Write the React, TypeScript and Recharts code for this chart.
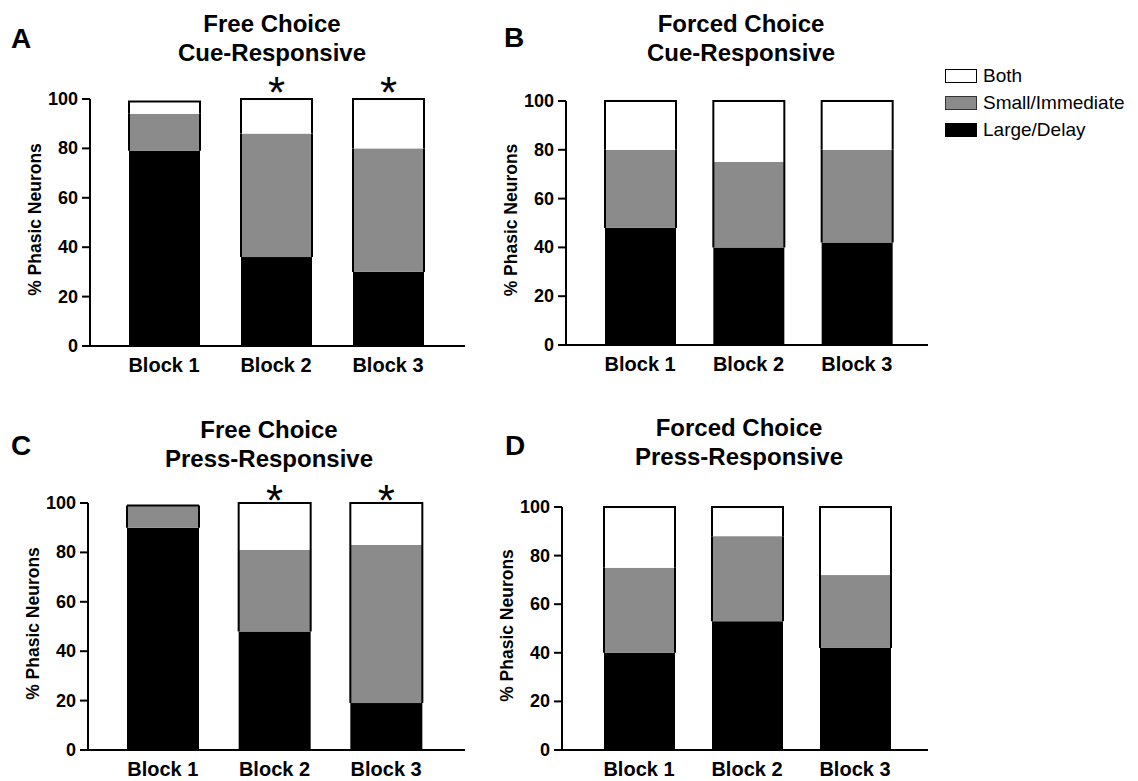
import React from "react"
import { BarChart, Bar, XAxis, YAxis, Legend, LabelList } from "recharts"

const FONT = "'Liberation Sans', Arial, Helvetica, sans-serif"
const W = 1138
const H = 781

const blocks = ["Block 1", "Block 2", "Block 3"]
const yTicks = [0, 20, 40, 60, 80, 100]
const legendOrder = ["Both", "Small/Immediate", "Large/Delay"]

// % of phasic neurons per block
const aLarge = [79, 36, 30]
const aSmall = [15, 50, 50]
const aBoth = [5, 14, 20]
const aSig = ["", "*", "*"]

const bLarge = [48, 40, 42]
const bSmall = [32, 35, 38]
const bBoth = [20, 25, 20]
const bSig = ["", "", ""]

const cLarge = [90, 48, 19]
const cSmall = [9, 33, 64]
const cBoth = [0, 19, 17]
const cSig = ["", "*", "*"]

const dLarge = [40, 53, 42]
const dSmall = [35, 35, 30]
const dBoth = [25, 12, 28]
const dSig = ["", "", ""]

const GRAY = "#8b8b8b"

type Cfg = {
  large: number[]
  small: number[]
  both: number[]
  sig: string[]
  axisX: number
  axisRight: number
  y100: number
  y0: number
  padL: number
  padR: number
  barSize: number
  starGap: number
  legend?: boolean
}

const panels: Cfg[] = [
  { large: aLarge, small: aSmall, both: aBoth, sig: aSig, axisX: 90, axisRight: 465, y100: 99, y0: 346, padL: 18, padR: 21, barSize: 71, starGap: 15 },
  { large: bLarge, small: bSmall, both: bBoth, sig: bSig, axisX: 566, axisRight: 928, y100: 101, y0: 345, padL: 20, padR: 17, barSize: 71, starGap: 15, legend: true },
  { large: cLarge, small: cSmall, both: cBoth, sig: cSig, axisX: 88, axisRight: 465, y100: 503, y0: 750, padL: 19, padR: 23, barSize: 72, starGap: 11 },
  { large: dLarge, small: dSmall, both: dBoth, sig: dSig, axisX: 562, axisRight: 928, y100: 507, y0: 750, padL: 23, padR: 19, barSize: 71, starGap: 11 },
]

const titles = [
  { x: 272, y: 32, lines: ["Free Choice", "Cue-Responsive"], letter: "A", lx: 11, ly: 48 },
  { x: 741, y: 32, lines: ["Forced Choice", "Cue-Responsive"], letter: "B", lx: 504, ly: 47 },
  { x: 269, y: 438, lines: ["Free Choice", "Press-Responsive"], letter: "C", lx: 11, ly: 455 },
  { x: 739, y: 436, lines: ["Forced Choice", "Press-Responsive"], letter: "D", lx: 505, ly: 455 },
]

// top segment: outline on left, top and right
function TopShape(props: any) {
  const { x, y, width, height, fill } = props
  return (
    <g>
      <rect x={x} y={y} width={width} height={Math.max(height, 0)} fill={fill} />
      <path d={`M${x},${y + height} V${y} H${x + width} V${y + height}`} fill="none" stroke="#000" strokeWidth={2} />
    </g>
  )
}

// middle segment: outline on the sides only
function MidShape(props: any) {
  const { x, y, width, height, fill } = props
  return (
    <g>
      <rect x={x} y={y} width={width} height={Math.max(height, 0)} fill={fill} />
      <path d={`M${x},${y} V${y + height} M${x + width},${y} V${y + height}`} fill="none" stroke="#000" strokeWidth={2} />
    </g>
  )
}

function YTick(props: any) {
  const { x, y, payload } = props
  return (
    <text x={x} y={y + 6} textAnchor="end" fontFamily={FONT} fontSize={18} fontWeight="bold" fill="#000"
      style={{ fontFamily: FONT, fontSize: 18, fontWeight: 700 }}>
      {payload.value}
    </text>
  )
}

function XTick(props: any) {
  const { x, y, payload } = props
  return (
    <text x={x} y={y + 26} textAnchor="middle" fontFamily={FONT} fontSize={20} fontWeight="bold" fill="#000"
      style={{ fontFamily: FONT, fontSize: 20, fontWeight: 700 }}>
      {payload.value}
    </text>
  )
}

function YLabel(props: any) {
  const vb = props.viewBox || {}
  const cx = props.cx
  const cy = vb.y + vb.height / 2 - 3
  return (
    <text
      x={cx}
      y={cy}
      transform={`rotate(-90 ${cx} ${cy})`}
      textAnchor="middle"
      dominantBaseline="central"
      fontFamily={FONT}
      fontSize={17.5}
      fontWeight="bold"
      fill="#000"
      style={{ fontFamily: FONT, fontSize: 17.5, fontWeight: 700 }}
    >
      % Phasic Neurons
    </text>
  )
}

function makeStar(gap: number) {
  return function Star(props: any) {
    const vb = props.viewBox || props
    if (!props.value) return null
    const top = Math.min(vb.y, vb.y + vb.height)
    const fs = 44
    return (
      <text
        x={vb.x + vb.width / 2}
        y={top - gap + fs * 0.55}
        textAnchor="middle"
        style={{ fontFamily: FONT, fontSize: fs, fill: "#000" }}
      >
        {props.value}
      </text>
    )
  }
}

const swatch: Record<string, React.CSSProperties> = {
  Both: { background: "#fff", border: "1.5px solid #000" },
  "Small/Immediate": { background: GRAY, border: "1.5px solid #333" },
  "Large/Delay": { background: "#000", border: "1.5px solid #000" },
}

function LegendBox(props: any) {
  const items = [...(props.payload || [])].sort(
    (a: any, b: any) => legendOrder.indexOf(a.value) - legendOrder.indexOf(b.value)
  )
  return (
    <div style={{ fontFamily: FONT, fontSize: 19, color: "#000" }}>
      {items.map((it: any) => (
        <div key={it.value} style={{ display: "flex", alignItems: "center", height: 27 }}>
          <span style={{ display: "inline-block", width: 30, height: 12, marginRight: 6, ...swatch[it.value] }} />
          <span>{it.value}</span>
        </div>
      ))}
    </div>
  )
}

function Panel({ cfg }: { cfg: Cfg }) {
  const data = blocks.map((b, i) => ({
    block: b,
    large: cfg.large[i],
    small: cfg.small[i],
    both: cfg.both[i],
    sig: cfg.sig[i],
  }))
  const yW = 60
  const xH = 30
  return (
    <div style={{ position: "absolute", left: 0, top: 0 }}>
      <BarChart
        width={W}
        height={H}
        data={data}
        barSize={cfg.barSize}
        margin={{ top: cfg.y100, bottom: H - cfg.y0 - xH, left: cfg.axisX - yW, right: W - cfg.axisRight }}
      >
        <XAxis
          dataKey="block"
          height={xH}
          padding={{ left: cfg.padL, right: cfg.padR }}
          axisLine={{ stroke: "#000", strokeWidth: 2 }}
          tickLine={false}
          tickSize={0}
          tickMargin={0}
          tick={<XTick />}
          interval={0}
        />
        <YAxis
          width={yW}
          domain={[0, 100]}
          ticks={yTicks}
          interval={0}
          axisLine={{ stroke: "#000", strokeWidth: 2 }}
          tickLine={{ stroke: "#000", strokeWidth: 2 }}
          tickSize={8}
          tickMargin={4}
          tick={<YTick />}
          label={<YLabel cx={cfg.axisX - 55} />}
        />
        {cfg.legend && (
          <Legend
            layout="vertical"
            align="center"
            verticalAlign="middle"
            content={<LegendBox />}
            wrapperStyle={{ left: 945, top: 62, width: 200 }}
          />
        )}
        <Bar dataKey="large" name="Large/Delay" stackId="s" fill="#000" isAnimationActive={false} />
        <Bar dataKey="small" name="Small/Immediate" stackId="s" fill={GRAY} shape={<MidShape />} isAnimationActive={false} />
        <Bar dataKey="both" name="Both" stackId="s" fill="#fff" shape={<TopShape />} isAnimationActive={false}>
          <LabelList dataKey="sig" content={makeStar(cfg.starGap)} />
        </Bar>
      </BarChart>
    </div>
  )
}

export default function App() {
  return (
    <div style={{ position: "absolute", left: 0, top: 0, width: W, height: H, background: "#fff" }}>
      {panels.map((p, i) => (
        <Panel key={i} cfg={p} />
      ))}
      <svg width={W} height={H} style={{ position: "absolute", left: 0, top: 0, pointerEvents: "none" }}>
        {titles.map((t) => (
          <g key={t.letter} style={{ fontFamily: FONT, fontWeight: 700, fill: "#000" }}>
            <text x={t.lx} y={t.ly} fontSize={28}>
              {t.letter}
            </text>
            <text x={t.x} y={t.y} fontSize={24} textAnchor="middle">
              {t.lines[0]}
            </text>
            <text x={t.x} y={t.y + 29} fontSize={24} textAnchor="middle">
              {t.lines[1]}
            </text>
          </g>
        ))}
      </svg>
    </div>
  )
}
